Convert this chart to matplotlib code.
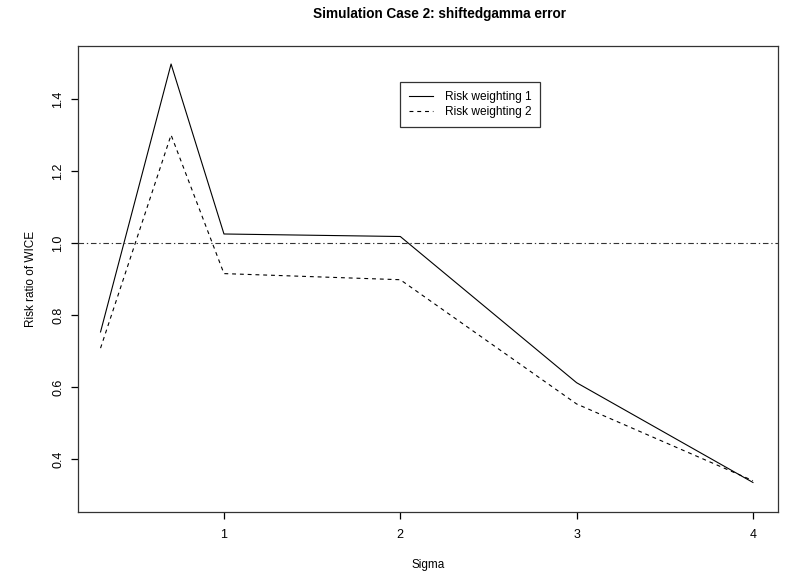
import matplotlib
matplotlib.use("Agg")
import matplotlib.pyplot as plt

plt.rcParams['font.family'] = ['Liberation Sans', 'DejaVu Sans']

sigma = [0.3, 0.7, 1, 2, 3, 4]
risk_w1 = [0.753, 1.497, 1.025, 1.018, 0.612, 0.335]
risk_w2 = [0.708, 1.300, 0.915, 0.898, 0.553, 0.340]
x_ticks = [1, 2, 3, 4]
y_ticks = [0.4, 0.6, 0.8, 1.0, 1.2, 1.4]
y_tick_labels = ["0.4", "0.6", "0.8", "1.0", "1.2", "1.4"]
reference_level = 1.0

fig = plt.figure(figsize=(7.86, 5.78), dpi=100)
ax = fig.add_axes([0.0992, 0.1142, 0.8906, 0.8062])

ax.plot(sigma, risk_w1, color="black", lw=0.8, label="Risk weighting 1")
ax.plot(sigma, risk_w2, color="black", lw=0.8, dashes=(3.5, 3.5),
        label="Risk weighting 2")
ax.axhline(reference_level, color="#333333", lw=0.8, dashes=(5, 2.5, 1.2, 2.5))

ax.set_xlim(0.172, 4.142)
ax.set_ylim(0.253, 1.547)
ax.set_xticks(x_ticks)
ax.set_xticklabels([str(t) for t in x_ticks])
ax.set_yticks(y_ticks)
ax.set_yticklabels(y_tick_labels, rotation=90, va="center")

ax.tick_params(direction="out", length=5, width=0.9, labelsize=9, pad=7)
ax.tick_params(axis="y", pad=5)
for s in ax.spines.values():
    s.set_linewidth(0.9)
    s.set_color("#333333")

ax.set_xlabel("Sigma", fontsize=8.5, labelpad=13)
ax.set_ylabel("Risk ratio of WICE", fontsize=8.5, labelpad=11)
ax.set_title("Simulation Case 2: shiftedgamma error", fontsize=9.8,
             fontweight="bold", pad=20, x=0.516)

leg = ax.legend(loc="upper left", bbox_to_anchor=(0.460, 0.922), fontsize=8.6,
                frameon=True, fancybox=False, handlelength=2.0,
                borderpad=0.75, labelspacing=0.25, handletextpad=1.0,
                borderaxespad=0)
leg.get_frame().set_edgecolor("black")
leg.get_frame().set_linewidth(0.9)

fig.savefig("out.png", dpi=100)
